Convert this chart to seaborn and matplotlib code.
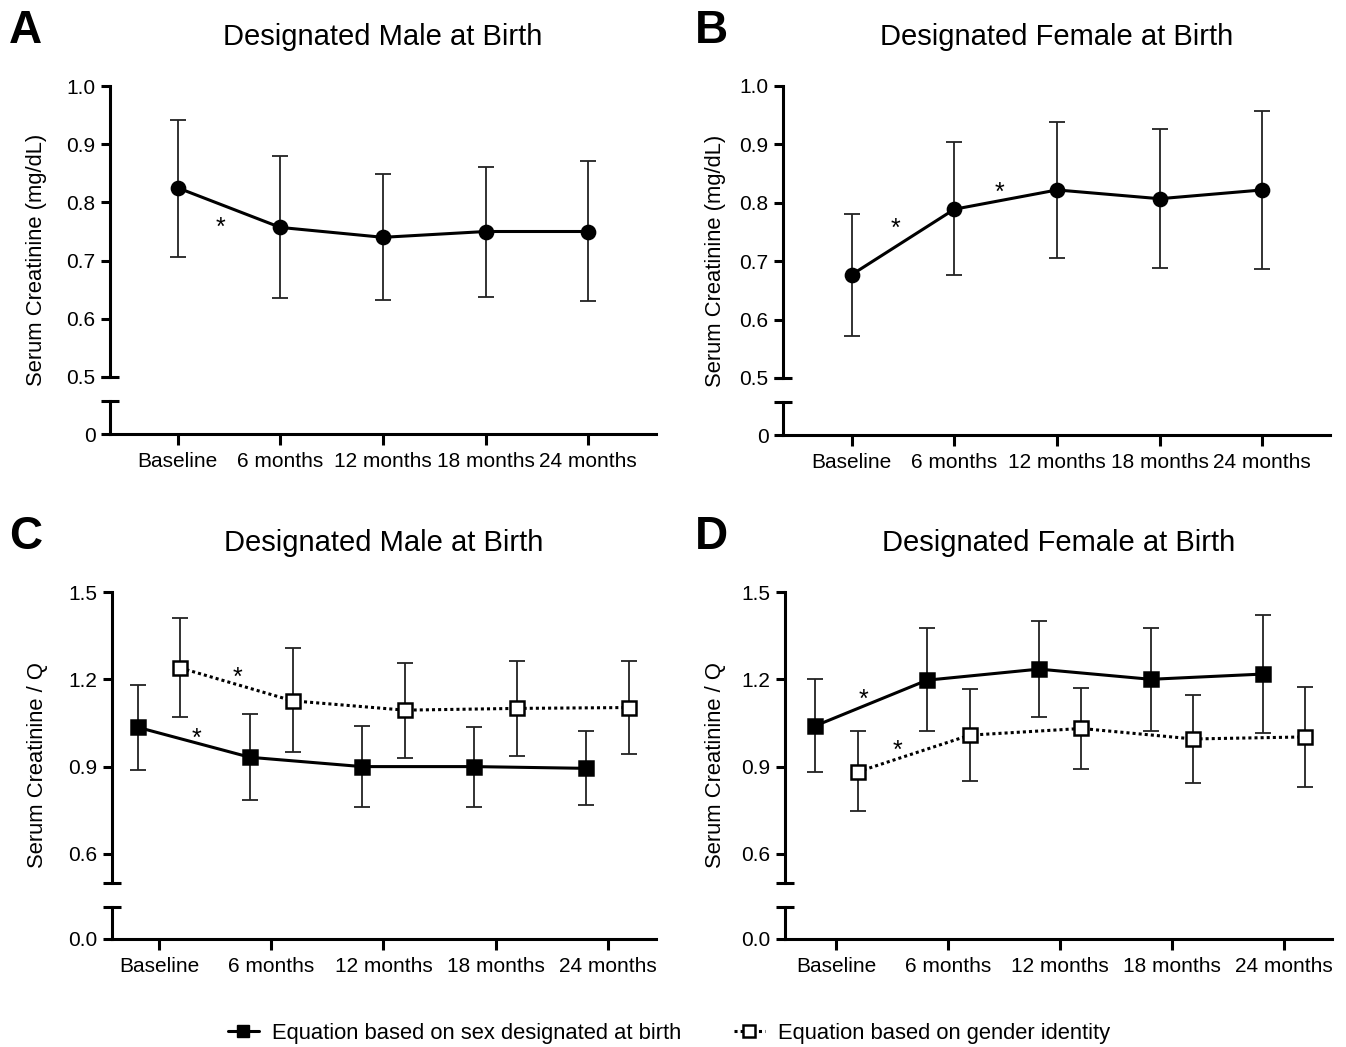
import matplotlib
matplotlib.use("Agg")
import matplotlib.pyplot as plt
from matplotlib.lines import Line2D
import numpy as np
import seaborn as sns

# time points on the x axis
timepoints = ["Baseline", "6 months", "12 months", "18 months", "24 months"]

# panel A: serum creatinine, designated male at birth (mean, upper, lower)
scr_male = [0.825, 0.757, 0.740, 0.750, 0.750]
scr_male_hi = [0.942, 0.880, 0.849, 0.861, 0.871]
scr_male_lo = [0.707, 0.636, 0.633, 0.638, 0.631]

# panel B: serum creatinine, designated female at birth
scr_female = [0.677, 0.789, 0.822, 0.807, 0.822]
scr_female_hi = [0.781, 0.904, 0.938, 0.926, 0.957]
scr_female_lo = [0.572, 0.677, 0.706, 0.688, 0.686]

# panel C: serum creatinine / Q, designated male at birth
q_male_sex = [1.035, 0.932, 0.900, 0.900, 0.894]
q_male_sex_hi = [1.182, 1.080, 1.039, 1.037, 1.023]
q_male_sex_lo = [0.888, 0.785, 0.760, 0.762, 0.768]
q_male_gender = [1.239, 1.126, 1.094, 1.100, 1.103]
q_male_gender_hi = [1.409, 1.306, 1.256, 1.263, 1.263]
q_male_gender_lo = [1.071, 0.949, 0.930, 0.937, 0.945]

# panel D: serum creatinine / Q, designated female at birth
q_female_sex = [1.040, 1.197, 1.235, 1.200, 1.218]
q_female_sex_hi = [1.200, 1.376, 1.400, 1.378, 1.420]
q_female_sex_lo = [0.882, 1.022, 1.071, 1.023, 1.014]
q_female_gender = [0.882, 1.008, 1.031, 0.995, 1.002]
q_female_gender_hi = [1.023, 1.166, 1.171, 1.145, 1.174]
q_female_gender_lo = [0.747, 0.850, 0.892, 0.842, 0.831]

# significance stars (x in category units, y in data units)
stars_a = [(0.42, 0.769)]
stars_b = [(0.43, 0.768), (1.44, 0.831)]
stars_c = [(0.70, 1.231), (0.33, 1.022)]
stars_d = [(0.24, 1.157), (0.55, 0.982)]

legend_labels = ["Equation based on sex designated at birth",
                 "Equation based on gender identity"]

sns.set_theme(style="ticks")
plt.rcParams["font.family"] = ["Liberation Sans", "DejaVu Sans"]
for key in ["text.color", "axes.labelcolor", "xtick.color", "ytick.color", "axes.edgecolor"]:
    plt.rcParams[key] = "black"

W, H = 1346, 1047
fig = plt.figure(figsize=(W / 100, H / 100), dpi=100)

SPINE = 2.2
TICK_FS = 15
DODGE = 0.19
STAR_FS = 18


def add_ax(left, top, right, bottom):
    a = fig.add_axes([left / W, 1 - bottom / H, (right - left) / W, (bottom - top) / H])
    a.patch.set_alpha(0)
    return a


def draw_series(ax, xs, vals, lo, hi, marker, face, ls):
    vals = np.array(vals)
    ax.errorbar(xs, vals, yerr=[vals - np.array(lo), np.array(hi) - vals], fmt="none",
                ecolor="#222222", elinewidth=1.3, capsize=5.5, capthick=1.3, zorder=2)
    sns.lineplot(x=xs, y=vals, ax=ax, color="black", lw=2.2, linestyle=ls,
                 marker=marker, markersize=9.5, markerfacecolor=face,
                 markeredgecolor="black", markeredgewidth=1.8,
                 errorbar=None, legend=False, zorder=3)


def break_cap(ax, y, wpx):
    ax.add_line(Line2D([-9 / wpx, 9 / wpx], [y, y], transform=ax.transAxes,
                       color="black", lw=SPINE, clip_on=False, solid_capstyle="butt"))


def panel(left, right, top, brk, low_top, zero, ylim, yticks, zero_label, xlim,
          series, stars, title, letter, letter_x, ylabel, ylabel_x):
    ax = add_ax(left, top, right, brk)
    axl = add_ax(left, low_top, right, zero)
    for s in series:
        draw_series(ax, *s)
    for sx, sy in stars:
        ax.annotate("*", (sx, sy), xytext=(0, -0.59 * STAR_FS), textcoords="offset points",
                    ha="center", va="baseline", fontsize=STAR_FS)

    ax.set_xlim(xlim)
    ax.set_ylim(ylim)
    ax.set_yticks(yticks)
    ax.set_yticklabels([f"{t:.1f}" for t in yticks])
    ax.set_xticks([])
    for sp in ["top", "right", "bottom"]:
        ax.spines[sp].set_visible(False)
    ax.spines["left"].set_linewidth(SPINE)
    ax.tick_params(axis="y", length=6.5, width=SPINE, labelsize=TICK_FS, pad=4)

    axl.set_xlim(xlim)
    axl.set_ylim(0, 1)
    axl.set_yticks([0])
    axl.set_yticklabels([zero_label])
    axl.set_xticks(range(len(timepoints)))
    axl.set_xticklabels(timepoints)
    for sp in ["top", "right"]:
        axl.spines[sp].set_visible(False)
    for sp in ["left", "bottom"]:
        axl.spines[sp].set_linewidth(SPINE)
    axl.tick_params(axis="y", length=6.5, width=SPINE, labelsize=TICK_FS, pad=4)
    axl.tick_params(axis="x", length=8, width=SPINE, labelsize=TICK_FS, pad=5)

    wpx = right - left
    break_cap(ax, 0, wpx)
    break_cap(axl, 1, wpx)

    cx = (left + right) / 2
    fig.text(cx / W, 1 - (top - 41) / H, title, ha="center", va="baseline", fontsize=21)
    fig.text(letter_x / W, 1 - (top - 43) / H, letter, ha="left", va="baseline",
             fontsize=33, fontweight="bold")
    fig.text(ylabel_x / W, 1 - ((top + zero) / 2) / H, ylabel, rotation=90,
             ha="center", va="center", fontsize=15.8)


x = np.arange(len(timepoints))

panel(110, 656, 86, 377, 401, 434, (0.5, 1.0), [0.5, 0.6, 0.7, 0.8, 0.9, 1.0], "0",
      (-0.66, 4.66),
      [(x, scr_male, scr_male_lo, scr_male_hi, "o", "black", "-")],
      stars_a, "Designated Male at Birth", "A", 9, "Serum Creatinine (mg/dL)", 37)

panel(783, 1330, 86, 378, 402, 435, (0.5, 1.0), [0.5, 0.6, 0.7, 0.8, 0.9, 1.0], "0",
      (-0.67, 4.66),
      [(x, scr_female, scr_female_lo, scr_female_hi, "o", "black", "-")],
      stars_b, "Designated Female at Birth", "B", 695, "Serum Creatinine (mg/dL)", 715)

panel(112, 656, 592, 883, 907, 939, (0.5, 1.5), [0.6, 0.9, 1.2, 1.5], "0.0",
      (-0.42, 4.43),
      [(x - DODGE, q_male_sex, q_male_sex_lo, q_male_sex_hi, "s", "black", "-"),
       (x + DODGE, q_male_gender, q_male_gender_lo, q_male_gender_hi, "s", "white", (0, (1, 1)))],
      stars_c, "Designated Male at Birth", "C", 9, "Serum Creatinine / Q", 38)

panel(785, 1332, 592, 883, 907, 939, (0.5, 1.5), [0.6, 0.9, 1.2, 1.5], "0.0",
      (-0.46, 4.43),
      [(x - DODGE, q_female_sex, q_female_sex_lo, q_female_sex_hi, "s", "black", "-"),
       (x + DODGE, q_female_gender, q_female_gender_lo, q_female_gender_hi, "s", "white", (0, (1, 1)))],
      stars_d, "Designated Female at Birth", "D", 695, "Serum Creatinine / Q", 715)

handles = [
    Line2D([], [], color="black", lw=2.2, ls="-", marker="s", markersize=9,
           markerfacecolor="black", markeredgecolor="black"),
    Line2D([], [], color="black", lw=2.2, ls=(0, (1, 1)), marker="s", markersize=9,
           markerfacecolor="white", markeredgecolor="black", markeredgewidth=1.8),
]
fig.legend(handles, legend_labels, loc="center", bbox_to_anchor=(669 / W, 1 - 1033 / H),
           ncol=2, frameon=False, fontsize=15.8, handlelength=1.4, handletextpad=0.6,
           columnspacing=2.4)

fig.savefig("out.png", dpi=100, facecolor="white")
